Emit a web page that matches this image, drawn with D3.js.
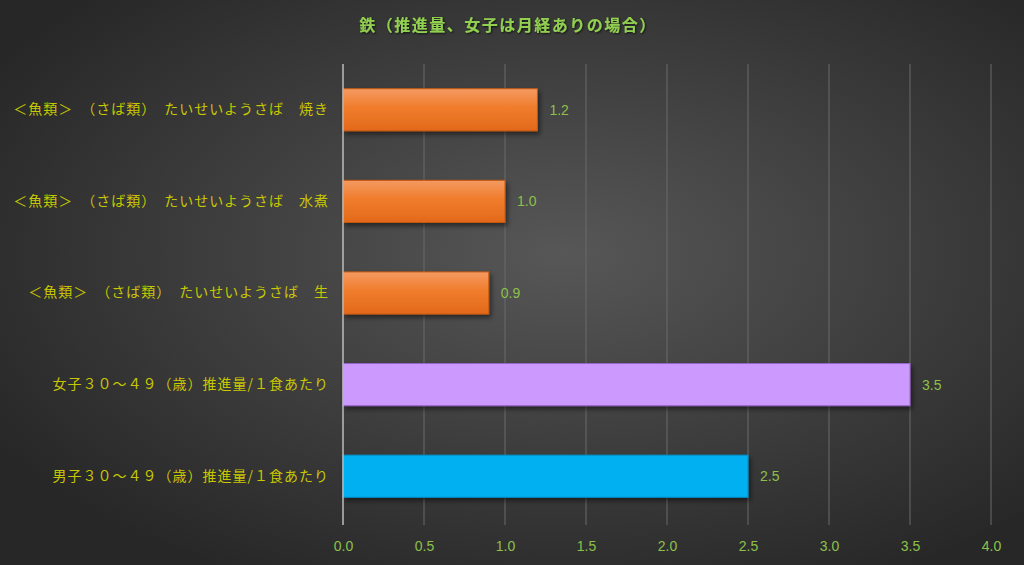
<!DOCTYPE html>
<html>
<head>
<meta charset="utf-8">
<script src="https://cdn.jsdelivr.net/npm/d3@7"></script>
<style>
  html, body { margin: 0; padding: 0; background: #333; }
  svg { display: block; }
</style>
</head>
<body>
<svg id="chart" width="1024" height="565"></svg>
<script>
// chart data
var titleText = "鉄（推進量、女子は月経ありの場合）";
var categories = [
  "＜魚類＞　（さば類）　たいせいようさば　焼き",
  "＜魚類＞　（さば類）　たいせいようさば　水煮",
  "＜魚類＞　（さば類）　たいせいようさば　生",
  "女子３０～４９（歳）推進量/１食あたり",
  "男子３０～４９（歳）推進量/１食あたり"
];
var values = [1.2, 1.0, 0.9, 3.5, 2.5];
var barFills = ["url(#orangeGrad)", "url(#orangeGrad)", "url(#orangeGrad)", "#cc99ff", "#00b0f0"];
var barStrokes = ["#c55a11", "#c55a11", "#c55a11", "#9966cc", "#0090c8"];
var xTicks = [0, 0.5, 1, 1.5, 2, 2.5, 3, 3.5, 4];

var W = 1024, H = 565;
var margin = { top: 64, right: 33, bottom: 43, left: 343 };
var width = W - margin.left - margin.right, height = H - margin.top - margin.bottom;

var svg = d3.select("#chart");
var defs = svg.append("defs");

var bg = defs.append("radialGradient").attr("id", "bgGrad")
  .attr("cx", "55%").attr("cy", "45%").attr("r", "65%");
bg.append("stop").attr("offset", "0%").attr("stop-color", "#575757");
bg.append("stop").attr("offset", "100%").attr("stop-color", "#272727");

var og = defs.append("linearGradient").attr("id", "orangeGrad")
  .attr("x1", 0).attr("y1", 0).attr("x2", 0).attr("y2", 1);
og.append("stop").attr("offset", "0%").attr("stop-color", "#f49a62");
og.append("stop").attr("offset", "45%").attr("stop-color", "#f07c2c");
og.append("stop").attr("offset", "100%").attr("stop-color", "#e2691a");

var sh = defs.append("filter").attr("id", "shadow")
  .attr("x", "-5%").attr("y", "-20%").attr("width", "115%").attr("height", "160%");
sh.append("feDropShadow").attr("dx", 2).attr("dy", 3).attr("stdDeviation", 2.5)
  .attr("flood-color", "#000").attr("flood-opacity", 0.5);

var tsh = defs.append("filter").attr("id", "tshadow");
tsh.append("feDropShadow").attr("dx", 1).attr("dy", 1).attr("stdDeviation", 1)
  .attr("flood-color", "#000").attr("flood-opacity", 0.7);

svg.append("rect").attr("width", W).attr("height", H).attr("fill", "url(#bgGrad)");

svg.append("text")
  .attr("x", 508).attr("y", 31)
  .attr("text-anchor", "middle")
  .attr("font-family", "'Noto Sans CJK JP', sans-serif")
  .attr("font-size", 16).attr("font-weight", "bold")
  .attr("letter-spacing", 1.5)
  .attr("fill", "#92d050")
  .attr("filter", "url(#tshadow)")
  .text(titleText);

var g = svg.append("g").attr("transform", "translate(" + margin.left + "," + margin.top + ")");

var x = d3.scaleLinear().domain([0, 4]).range([0, width]);
var y = d3.scaleBand().domain(categories).range([0, height]).paddingInner(0.54).paddingOuter(0.27);

// gridlines
g.selectAll(".grid").data(xTicks.slice(1)).enter().append("line")
  .attr("x1", function (d) { return x(d); }).attr("x2", function (d) { return x(d); })
  .attr("y1", 0).attr("y2", height + 3)
  .attr("stroke", "#6a6a6a").attr("stroke-width", 1);

// x axis labels
var xAxis = d3.axisBottom(x).tickValues(xTicks).tickFormat(d3.format(".1f")).tickSize(0).tickPadding(19);
var xg = g.append("g").attr("transform", "translate(0," + height + ")").call(xAxis);
xg.select(".domain").remove();
xg.selectAll("text").attr("fill", "#8dc04a").attr("font-size", 14)
  .attr("font-family", "'Liberation Sans Narrow', 'Liberation Sans', Arial, sans-serif");

// bars
g.selectAll(".bar").data(values).enter().append("rect")
  .attr("x", x(0))
  .attr("y", function (d, i) { return y(categories[i]); })
  .attr("width", function (d) { return x(d) - x(0); })
  .attr("height", y.bandwidth())
  .attr("fill", function (d, i) { return barFills[i]; })
  .attr("stroke", function (d, i) { return barStrokes[i]; })
  .attr("stroke-width", 1)
  .attr("filter", "url(#shadow)");

// value labels
g.selectAll(".val").data(values).enter().append("text")
  .attr("x", function (d) { return x(d) + 12; })
  .attr("y", function (d, i) { return y(categories[i]) + y.bandwidth() / 2; })
  .attr("dy", "0.35em")
  .attr("fill", "#8dc04a").attr("font-size", 14)
  .attr("font-family", "'Liberation Sans Narrow', 'Liberation Sans', Arial, sans-serif")
  .text(function (d) { return d3.format(".1f")(d); });

// y axis line
g.append("line").attr("x1", 0).attr("x2", 0).attr("y1", 0).attr("y2", height + 3)
  .attr("stroke", "#bdbdbd").attr("stroke-width", 1.5);

// category labels
var yAxis = d3.axisLeft(y).tickSize(0).tickPadding(14);
var yg = g.append("g").call(yAxis);
yg.select(".domain").remove();
yg.selectAll("text").attr("fill", "#c8c800").attr("font-size", 14)
  .attr("letter-spacing", 1)
  .attr("font-family", "'Noto Sans CJK JP', sans-serif");
</script>
</body>
</html>
